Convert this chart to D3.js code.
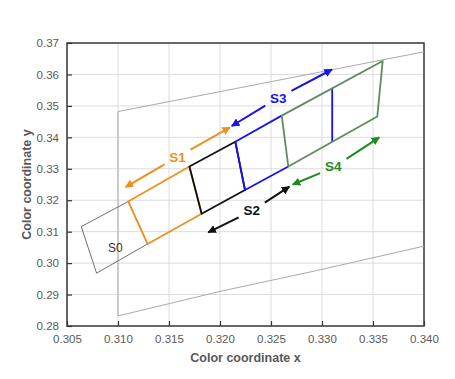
<!DOCTYPE html>
<html><head><meta charset="utf-8">
<script src="https://cdn.jsdelivr.net/npm/d3@7"></script>
<style>body{margin:0;background:#fff;} text{font-family:"Liberation Sans",Arial,sans-serif;}</style>
</head><body><svg id="c" width="455" height="379"></svg>
<script>
const xTicks=[0.305,0.310,0.315,0.320,0.325,0.330,0.335,0.340];
const yTicks=[0.28,0.29,0.30,0.31,0.32,0.33,0.34,0.35,0.36,0.37];
const boundary=[[0.340,0.3672],[0.310,0.3482],[0.310,0.2832],[0.320,0.2910],[0.330,0.2980],[0.340,0.3054]];
const s0Box=[[0.3064,0.3116],[0.3110,0.3196],[0.3129,0.3061],[0.3079,0.2968]];
const s1Box=[[0.3110,0.3196],[0.3170,0.3307],[0.3182,0.3157],[0.3129,0.3061]];
const s2Box=[[0.3170,0.3307],[0.3215,0.3386],[0.32245,0.32325],[0.3182,0.3157]];
const s3Box=[[0.32605,0.3469],[0.3215,0.3386],[0.32245,0.32325],[0.3267,0.3307]];
const s3Line=[[0.3310,0.3556],[0.3310,0.3385]];
const s4Box=[[0.32605,0.3469],[0.33595,0.3643],[0.33542,0.3466],[0.3267,0.3307]];
const arrows=[
 {name:"S1",a:[0.31074,0.3242],b:[0.32098,0.34319],l:[0.31583,0.33375],color:"#ef8f1f"},
 {name:"S3",a:[0.32115,0.3436],b:[0.33098,0.36157],l:[0.32572,0.35241],color:"#1515e8"},
 {name:"S4",a:[0.32713,0.3250],b:[0.33562,0.34001],l:[0.33111,0.33088],color:"#1f8a1f"},
 {name:"S2",a:[0.31885,0.3098],b:[0.32680,0.3243],l:[0.32311,0.31689],color:"#111111"}
];
const s0Label=[0.30973,0.3050];

const svg=d3.select("#c");
const L=67,R=424,T=43,B=326;
const x=d3.scaleLinear().domain([0.305,0.340]).range([L,R]);
const y=d3.scaleLinear().domain([0.28,0.37]).range([B,T]);
const g=svg.append("g");
g.selectAll(".gx").data(xTicks).enter().append("line").attr("x1",d=>x(d)).attr("x2",d=>x(d)).attr("y1",T).attr("y2",B).attr("stroke","#dcdcdc").attr("stroke-width",1);
g.selectAll(".gy").data(yTicks).enter().append("line").attr("y1",d=>y(d)).attr("y2",d=>y(d)).attr("x1",L).attr("x2",R).attr("stroke","#dcdcdc").attr("stroke-width",1);
const xa=g.append("g").attr("transform",`translate(0,${B})`).call(d3.axisBottom(x).tickValues(xTicks).tickFormat(d3.format(".3f")).tickSizeInner(-5).tickSizeOuter(0).tickPadding(9));
const ya=g.append("g").attr("transform",`translate(${L},0)`).call(d3.axisLeft(y).tickValues(yTicks).tickFormat(d3.format(".2f")).tickSizeInner(-5).tickSizeOuter(0).tickPadding(8));
[xa,ya].forEach(a=>{a.select(".domain").remove();a.selectAll("line").attr("stroke","#333").attr("stroke-width",1.2);a.selectAll("text").attr("fill","#595959").style("font-size","11.5px");});
g.append("rect").attr("x",L).attr("y",T).attr("width",R-L).attr("height",B-T).attr("fill","none").attr("stroke","#3a3a3a").attr("stroke-width",1.5);
svg.append("text").attr("x",(L+R)/2).attr("y",362).attr("text-anchor","middle").attr("fill","#595959").style("font-size","12.5px").style("font-weight","bold").text("Color coordinate x");
svg.append("text").attr("transform",`translate(31,${(T+B)/2}) rotate(-90)`).attr("text-anchor","middle").attr("fill","#595959").style("font-size","12.5px").style("font-weight","bold").text("Color coordinate y");

const line=d3.line().x(d=>x(d[0])).y(d=>y(d[1]));
const path=(pts,c,w,closed)=>g.append("path").attr("d",line(pts)+(closed?"Z":"")).attr("fill","none").attr("stroke",c).attr("stroke-width",w).attr("stroke-linejoin","round");
g.append("path").attr("d",line(boundary)).attr("fill","none").attr("stroke","#aaaaaa").attr("stroke-width",1);
path(s0Box,"#707070",1,true);
path(s1Box,"#ef8f1f",1.8,true);
path(s2Box,"#111111",1.8,true);
path(s3Box,"#1515e8",1.8,false);
path(s3Line,"#1515e8",1.8,false);
path(s4Box,"#5e8c5e",1.8,true);
g.append("text").attr("x",x(s0Label[0])).attr("y",y(s0Label[1])).attr("text-anchor","middle").attr("dy","0.35em").attr("fill","#333").style("font-size","12px").text("S0");

const defs=svg.append("defs");
arrows.forEach((a,i)=>{
  defs.append("marker").attr("id","m"+i).attr("viewBox","0 0 10 10").attr("refX",9).attr("refY",5).attr("markerWidth",4.2).attr("markerHeight",4.2).attr("orient","auto-start-reverse").attr("markerUnits","strokeWidth")
   .append("path").attr("d","M0,0L10,5L0,10Z").attr("fill",a.color);
  const ax=x(a.a[0]),ay=y(a.a[1]),bx=x(a.b[0]),by=y(a.b[1]),lx=x(a.l[0]),ly=y(a.l[1]);
  const len=Math.hypot(bx-ax,by-ay),ux=(bx-ax)/len,uy=(by-ay)/len,gap=15;
  g.append("line").attr("x1",lx-ux*gap).attr("y1",ly-uy*gap).attr("x2",ax).attr("y2",ay).attr("stroke",a.color).attr("stroke-width",2).attr("marker-end",`url(#m${i})`);
  g.append("line").attr("x1",lx+ux*gap).attr("y1",ly+uy*gap).attr("x2",bx).attr("y2",by).attr("stroke",a.color).attr("stroke-width",2).attr("marker-end",`url(#m${i})`);
  g.append("text").attr("x",lx).attr("y",ly).attr("text-anchor","middle").attr("dy","0.36em").attr("fill",a.color).style("font-size","13.5px").style("font-weight","bold").text(a.name);
});
</script></body></html>
